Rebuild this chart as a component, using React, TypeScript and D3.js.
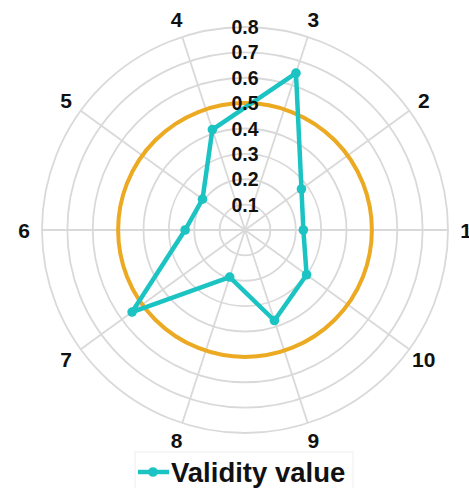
import React from "react";
import * as d3 from "d3";

const categories = ["1", "2", "3", "4", "5", "6", "7", "8", "9", "10"];
const validityValues = [0.23, 0.275, 0.65, 0.416, 0.207, 0.236, 0.55, 0.195, 0.375, 0.3];
const radialTicks = [0.1, 0.2, 0.3, 0.4, 0.5, 0.6, 0.7, 0.8];
const thresholdValue = 0.5;
const seriesName = "Validity value";

const W = 469;
const H = 488;
const cx = 245;
const cy = 230;
const R = 203;
const FONT = "'Liberation Sans', Arial, sans-serif";
const CYAN = "#1CC3C3";
const ORANGE = "#EBAA22";
const GRID = "#D9D9D9";

export default function App() {
  const r = d3.scaleLinear().domain([0, 0.8]).range([0, R]);
  const ang = d3
    .scaleLinear()
    .domain([0, categories.length])
    .range([0, 2 * Math.PI]);
  // angle measured counterclockwise from east
  const px = (i: number, v: number) => cx + r(v) * Math.cos(ang(i));
  const py = (i: number, v: number) => cy - r(v) * Math.sin(ang(i));

  const line = d3
    .line<number>()
    .x((v, i) => px(i, v))
    .y((v, i) => py(i, v))
    .curve(d3.curveLinearClosed);

  const labelR = 221;

  return (
    <svg
      width={W}
      height={H}
      style={{ position: "absolute", left: 0, top: 0, background: "#fff" }}
    >
      {radialTicks.map((t) => (
        <circle key={t} cx={cx} cy={cy} r={r(t)} fill="none" stroke={GRID} strokeWidth={1.8} />
      ))}
      {categories.map((c, i) => (
        <line
          key={c}
          x1={cx}
          y1={cy}
          x2={px(i, 0.8)}
          y2={py(i, 0.8)}
          stroke={GRID}
          strokeWidth={1.8}
        />
      ))}
      <circle cx={cx} cy={cy} r={r(thresholdValue)} fill="none" stroke={ORANGE} strokeWidth={4} />
      <path d={line(validityValues) || ""} fill="none" stroke={CYAN} strokeWidth={4.5} strokeLinejoin="round" />
      {validityValues.map((v, i) => (
        <circle key={i} cx={px(i, v)} cy={py(i, v)} r={4.8} fill={CYAN} />
      ))}
      {radialTicks.map((t) => (
        <text
          key={"t" + t}
          x={cx}
          y={cy - r(t)}
          textAnchor="middle"
          dominantBaseline="central"
          fontFamily={FONT}
          fontWeight="bold"
          fontSize={19.5}
          fill="#111"
        >
          {t.toFixed(1)}
        </text>
      ))}
      {categories.map((c, i) => (
        <text
          key={"c" + c}
          x={cx + labelR * Math.cos(ang(i))}
          y={cy - labelR * Math.sin(ang(i))}
          textAnchor="middle"
          dominantBaseline="central"
          fontFamily={FONT}
          fontWeight="bold"
          fontSize={21}
          fill="#111"
        >
          {c}
        </text>
      ))}
      <rect x={135} y={452} width={218} height={40} fill="none" stroke="#EEEEEE" strokeWidth={1} />
      <line x1={138} y1={472} x2={169} y2={472} stroke={CYAN} strokeWidth={4.5} />
      <circle cx={153} cy={472} r={4.8} fill={CYAN} />
      <text x={171} y={482} fontFamily={FONT} fontWeight="bold" fontSize={27.5} fill="#111">
        {seriesName}
      </text>
    </svg>
  );
}
